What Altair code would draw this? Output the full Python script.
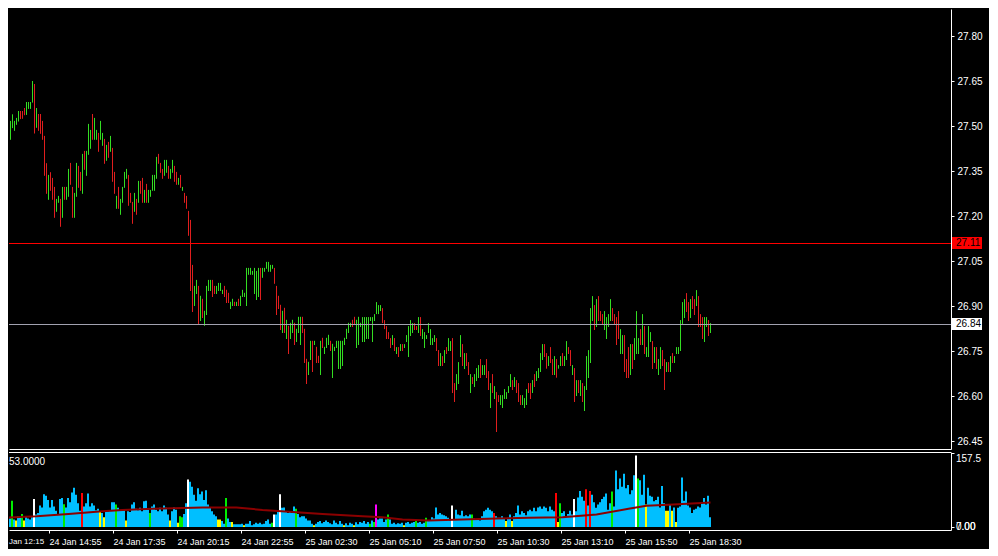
import altair as alt
import pandas as pd

FONT = "Liberation Sans"

# ---------------- price bars (5-minute bars, index 0..354) ----------------
highs = [
    27.539, 27.527, 27.517, 27.487, 27.517, 27.539, 27.517, 27.527, 27.55, 27.55,
    27.55, 27.56, 27.58, 27.58, 27.58, 27.65, 27.64, 27.56, 27.54, 27.54,
    27.517, 27.467, 27.376, 27.337, 27.346, 27.327, 27.297, 27.257, 27.267, 27.257,
    27.297, 27.297, 27.297, 27.357, 27.377, 27.297, 27.277, 27.377, 27.367, 27.347,
    27.407, 27.417, 27.417, 27.507, 27.487, 27.54, 27.527, 27.487, 27.477, 27.517,
    27.477, 27.457, 27.437, 27.447, 27.467, 27.427, 27.347, 27.267, 27.297, 27.257,
    27.297, 27.347, 27.357, 27.337, 27.277, 27.247, 27.277, 27.257, 27.317, 27.317,
    27.327, 27.287, 27.307, 27.287, 27.287, 27.337, 27.337, 27.397, 27.407, 27.377,
    27.357, 27.387, 27.387, 27.367, 27.357, 27.387, 27.367, 27.347, 27.327, 27.337,
    27.297, 27.277, 27.267, 27.217, 27.187, 27.037, 26.967, 26.987, 26.967, 26.934,
    26.924, 26.884, 26.967, 26.987, 26.987, 26.987, 26.967, 26.967, 26.977, 26.977,
    26.954, 26.967, 26.954, 26.944, 26.914, 26.924, 26.914, 26.914, 26.924, 26.934,
    26.954, 26.944, 27.027, 27.027, 27.027, 27.017, 27.027, 27.017, 27.027, 27.027,
    27.027, 27.027, 27.047, 27.047, 27.037, 27.037, 27.027, 26.967, 26.934, 26.904,
    26.884, 26.894, 26.854, 26.834, 26.844, 26.854, 26.844, 26.824, 26.864, 26.864,
    26.864, 26.824, 26.724, 26.714, 26.784, 26.784, 26.784, 26.764, 26.734, 26.784,
    26.794, 26.764, 26.794, 26.804, 26.784, 26.774, 26.764, 26.784, 26.784, 26.784,
    26.784, 26.794, 26.824, 26.844, 26.844, 26.854, 26.864, 26.854, 26.864, 26.844,
    26.863, 26.863, 26.863, 26.863, 26.863, 26.863, 26.873, 26.913, 26.903, 26.903,
    26.893, 26.853, 26.833, 26.813, 26.793, 26.803, 26.793, 26.763, 26.763, 26.773,
    26.773, 26.773, 26.803, 26.833, 26.853, 26.843, 26.843, 26.833, 26.863, 26.863,
    26.823, 26.813, 26.803, 26.843, 26.823, 26.793, 26.803, 26.793, 26.753, 26.743,
    26.733, 26.753, 26.763, 26.793, 26.783, 26.793, 26.643, 26.673, 26.713, 26.803,
    26.773, 26.743, 26.743, 26.713, 26.673, 26.663, 26.673, 26.693, 26.703, 26.723,
    26.703, 26.703, 26.723, 26.683, 26.643, 26.673, 26.633, 26.613, 26.603, 26.603,
    26.603, 26.623, 26.613, 26.633, 26.673, 26.653, 26.663, 26.653, 26.643, 26.603,
    26.603, 26.593, 26.623, 26.643, 26.643, 26.653, 26.673, 26.683, 26.693, 26.743,
    26.773, 26.773, 26.743, 26.733, 26.763, 26.723, 26.733, 26.723, 26.703, 26.733,
    26.743, 26.733, 26.783, 26.763, 26.753, 26.703, 26.693, 26.653, 26.653, 26.653,
    26.643, 26.633, 26.733, 26.753, 26.893, 26.933, 26.903, 26.923, 26.933, 26.883,
    26.873, 26.883, 26.863, 26.873, 26.923, 26.893, 26.873, 26.863, 26.883, 26.823,
    26.803, 26.803, 26.723, 26.763, 26.773, 26.773, 26.793, 26.883, 26.793, 26.823,
    26.873, 26.833, 26.763, 26.833, 26.813, 26.783, 26.763, 26.763, 26.723, 26.763,
    26.753, 26.723, 26.713, 26.713, 26.733, 26.743, 26.733, 26.763, 26.763, 26.853,
    26.913, 26.923, 26.943, 26.913, 26.923, 26.933, 26.923, 26.953, 26.933, 26.873,
    26.863, 26.863, 26.863, 26.853, 26.843,
]
lows = [
    27.464, 27.494, 27.425, 27.434, 27.454, 27.493, 27.484, 27.504, 27.515, 27.523,
    27.524, 27.536, 27.537, 27.557, 27.557, 27.578, 27.475, 27.494, 27.484, 27.474,
    27.454, 27.334, 27.274, 27.254, 27.284, 27.254, 27.194, 27.214, 27.244, 27.164,
    27.194, 27.254, 27.254, 27.264, 27.304, 27.194, 27.194, 27.264, 27.294, 27.284,
    27.274, 27.354, 27.334, 27.404, 27.424, 27.454, 27.454, 27.454, 27.414, 27.454,
    27.434, 27.374, 27.384, 27.394, 27.414, 27.314, 27.274, 27.224, 27.224, 27.204,
    27.244, 27.294, 27.324, 27.234, 27.244, 27.174, 27.214, 27.204, 27.244, 27.274,
    27.244, 27.244, 27.244, 27.244, 27.264, 27.284, 27.284, 27.324, 27.374, 27.344,
    27.324, 27.334, 27.344, 27.324, 27.324, 27.344, 27.314, 27.304, 27.304, 27.294,
    27.284, 27.244, 27.224, 27.134, 26.95, 26.88, 26.90, 26.94, 26.84, 26.85,
    26.86, 26.834, 26.87, 26.95, 26.95, 26.93, 26.94, 26.94, 26.95, 26.95,
    26.94, 26.93, 26.91, 26.91, 26.89, 26.90, 26.90, 26.90, 26.90, 26.90,
    26.93, 26.93, 26.90, 27.004, 27.004, 27.004, 26.94, 26.92, 26.93, 26.92,
    26.994, 27.014, 27.024, 27.014, 27.014, 27.024, 26.974, 26.87, 26.89, 26.82,
    26.81, 26.81, 26.79, 26.74, 26.79, 26.81, 26.77, 26.78, 26.81, 26.77,
    26.81, 26.71, 26.64, 26.67, 26.72, 26.68, 26.77, 26.71, 26.71, 26.67,
    26.76, 26.74, 26.76, 26.77, 26.75, 26.66, 26.75, 26.76, 26.69, 26.69,
    26.70, 26.77, 26.79, 26.81, 26.83, 26.83, 26.84, 26.76, 26.77, 26.83,
    26.78, 26.78, 26.79, 26.79, 26.85, 26.78, 26.85, 26.873, 26.873, 26.883,
    26.843, 26.823, 26.79, 26.79, 26.76, 26.77, 26.75, 26.74, 26.73, 26.75,
    26.75, 26.76, 26.78, 26.73, 26.80, 26.81, 26.82, 26.82, 26.81, 26.80,
    26.79, 26.76, 26.79, 26.81, 26.77, 26.77, 26.78, 26.75, 26.70, 26.70,
    26.70, 26.71, 26.74, 26.75, 26.75, 26.61, 26.58, 26.62, 26.64, 26.73,
    26.70, 26.69, 26.70, 26.67, 26.61, 26.64, 26.63, 26.65, 26.66, 26.66,
    26.67, 26.67, 26.66, 26.62, 26.56, 26.61, 26.59, 26.48, 26.58, 26.57,
    26.56, 26.59, 26.59, 26.61, 26.63, 26.62, 26.63, 26.61, 26.58, 26.57,
    26.57, 26.56, 26.57, 26.61, 26.59, 26.61, 26.63, 26.65, 26.66, 26.68,
    26.72, 26.73, 26.691, 26.70, 26.71, 26.67, 26.67, 26.661, 26.691, 26.70,
    26.70, 26.70, 26.72, 26.74, 26.70, 26.67, 26.58, 26.60, 26.61, 26.60,
    26.58, 26.55, 26.62, 26.66, 26.71, 26.85, 26.82, 26.83, 26.85, 26.85,
    26.84, 26.82, 26.79, 26.83, 26.85, 26.85, 26.84, 26.77, 26.79, 26.74,
    26.74, 26.68, 26.66, 26.66, 26.67, 26.69, 26.72, 26.74, 26.74, 26.77,
    26.77, 26.74, 26.73, 26.73, 26.78, 26.69, 26.71, 26.69, 26.67, 26.69,
    26.70, 26.62, 26.68, 26.68, 26.68, 26.71, 26.71, 26.74, 26.74, 26.75,
    26.84, 26.86, 26.88, 26.85, 26.86, 26.89, 26.87, 26.90, 26.83, 26.83,
    26.79, 26.78, 26.83, 26.80, 26.81,
]
# G = up bar, R = down bar
directions = (
    "GRRGGGGGGR" "RRGGGGRGRR" "RRRGRRRGGR" "GRGGRRGGRR" "GRGGGRGGRG"
    "GRGRGRRGRG" "GGGRRRGRGR" "RGRGGGGGRR" "RGGRGGRRGR"
    "GRRRRRGGRG" "RGGGGRRGGG" "GRRRGGRGRG" "GGGGGGGGGR" "GGGGGGRRRR"
    "GRGRGGRGGG" "RRRGGRGRRG" "RGGGRGGGGG" "GGGGGRRGGG"
    "GGGGGGGGGG" "RRRRRGRGRG" "RGGGGGRRGR" "GGGGGGGRRG" "RGRGGRRGGG"
    "RGRRGRGGGR" "GGRRGRGRRG" "GGGGGRGRRR" "GGGRRGRGGG"
    "GRRGRRGRGG" "RGGRRGRGRG" "RGGGGGRGRR" "RGGGGRRRRG" "GRRRGRGGGR"
    "GRGGGRGRGG" "RRGRGRGGGG" "GGRRGRRGRR" "RGGRG"
)

# ---------------- volumes ----------------
volumes = [
    27, 25, 53, 21, 18, 56, 16, 14, 23, 23,
    28, 14, 23, 18, 16, 21, 60, 27, 30, 46,
    42, 70, 67, 58, 42, 58, 44, 35, 28, 60,
    62, 49, 42, 62, 53, 74, 84, 69, 51, 35,
    73, 44, 51, 72, 44, 51, 46, 36, 39, 34,
    30, 21, 34, 34, 36, 53, 53, 48, 41, 36,
    35, 37, 14, 34, 32, 48, 53, 39, 36, 41,
    34, 55, 56, 37, 30, 44, 48, 37, 34, 41,
    34, 46, 41, 27, 14, 34, 42, 37, 9, 23,
    21, 28, 51, 102, 97, 86, 69, 56, 83, 70,
    76, 58, 79, 48, 41, 34, 27, 23, 16, 16,
    13, 7, 62, 18, 11, 11, 6, 6, 6, 6,
    7, 4, 7, 7, 13, 4, 6, 9, 7, 9,
    6, 7, 13, 16, 7, 9, 27, 27, 35, 70,
    41, 42, 34, 30, 34, 30, 44, 39, 28, 21,
    23, 23, 18, 14, 14, 7, 4, 7, 11, 13,
    8, 11, 14, 11, 8, 6, 14, 9, 6, 13,
    7, 4, 8, 4, 9, 7, 4, 10, 6, 11,
    9, 13, 7, 11, 7, 14, 11, 48, 16, 18,
    18, 11, 16, 27, 16, 7, 9, 6, 8, 7,
    9, 4, 9, 11, 7, 9, 11, 13, 9, 11,
    7, 9, 20, 14, 13, 21, 18, 42, 27, 30,
    27, 25, 23, 20, 14, 46, 16, 37, 27, 25,
    35, 23, 25, 23, 27, 27, 18, 16, 16, 14,
    23, 34, 37, 41, 37, 34, 30, 23, 20, 20,
    23, 18, 13, 20, 27, 13, 23, 30, 46, 27,
    34, 30, 25, 34, 37, 34, 41, 34, 42, 44,
    39, 44, 41, 34, 44, 37, 34, 73, 11, 51,
    30, 34, 23, 28, 35, 27, 60, 34, 63, 77,
    65, 56, 81, 46, 77, 69, 53, 41, 48, 53,
    60, 65, 72, 37, 51, 76, 44, 121, 81, 104,
    86, 114, 83, 90, 70, 79, 111, 153, 104, 100,
    69, 112, 48, 84, 67, 65, 55, 58, 65, 42,
    88, 51, 35, 35, 48, 35, 42, 11, 41, 44,
    106, 56, 76, 46, 42, 30, 37, 39, 44, 42,
    51, 62, 48, 67, 21,
]
# b=normal, y=low, g=churn, r=climax up, w=climax down, m=climax churn
volume_classes = (
    "bbwbbgbybb" "gybbbbwbbb" "bbbbbbbbbb" "bgbbbbbbbb" "rbbbbbbbby"
    "bybbbbbgbb" "bbybbbbbbb" "bbbbgbbbbb" "bbbbybbbyg" "gbbwbbbbbb"
    "bbbbbbbbyy" "bbgbbybbbb" "bybbbbbbbb" "bbbbbgwbbw" "bbbbbbbgbb"
    "bbbbbbybbb" "bbbbbbbbbb" "bybbbbybbb" "bbbbgbgmbb" "bbbgbbbbbb"
    "bybbbbbgbb" "bbgbbbbbbb" "bbbbbwbbbb" "bbbbbgbbbb" "bbbbbbrbbb"
    "bbybbybbbb" "bbbbbbbbbb" "bbbbbbbryg" "bbbbbbwbbb" "bbrbrbbbbb"
    "bbbbbgbbbb" "bbbbbbbwgb" "bbybbbbbbb" "bbyybybybb" "bbbbbbbbbb"
    "bbbbb"
)
# volume moving average (read at a few bars)
ma_bars = [0, 17, 33, 50, 60, 75, 90, 100, 117, 130, 147, 160, 180, 190, 200,
           213, 230, 247, 263, 280, 297, 313, 322, 333, 347, 354]
ma_values = [19.6, 23, 28, 33.6, 36.4, 39, 40.6, 42, 42, 36.4, 31.5, 28, 23, 21, 16,
             14, 16, 18, 19.6, 21, 26.6, 39, 45.5, 47.6, 51, 52.5]

# ---------------- axes / labels ----------------
time_tick_bars = [23, 55, 87, 119, 151, 183, 215, 247, 279, 311, 343]
time_tick_labels = ["24 Jan 14:55", "24 Jan 17:35", "24 Jan 20:15",
                    "24 Jan 22:55", "25 Jan 02:30", "25 Jan 05:10", "25 Jan 07:50",
                    "25 Jan 10:30", "25 Jan 13:10", "25 Jan 15:50", "25 Jan 18:30"]
first_label = "Jan 12:15"          # partly scrolled-off first label
price_ticks = [26.45, 26.60, 26.75, 26.90, 27.05, 27.20, 27.35, 27.50, 27.65, 27.80]
stop_level = 27.11
last_price = 26.84
vol_axis_top = 157.5
vol_top_text = "53.0000"
vol_bottom_texts = ["0.00", "7.00"]

assert len(highs) == len(lows) == len(directions) == len(volumes) == len(volume_classes)

# ---------------- layout ----------------
W = 942
H1 = 440
H2 = 78
X_LO = 3.25
X_HI = X_LO + W / 2.0          # 2 px per bar
P_HI = 27.89
P_LO = P_HI - H1 / 300.0       # 300 px per 1.00
V_LO, V_HI = -6.4, 160.7

UP, DN = "#33dd22", "#e01e1e"
WHITE = "#ffffff"

n = len(highs)
bars_df = pd.DataFrame({"k": list(range(n)), "high": highs, "low": lows,
                        "dir": list(directions)})
vol_df = pd.DataFrame({"k": list(range(n)), "vol": volumes, "cls": list(volume_classes)})
ma_df = pd.DataFrame({"k": ma_bars, "v": ma_values})
tick_df = pd.DataFrame({"k": time_tick_bars, "label": time_tick_labels})

xscale = alt.Scale(domain=[X_LO, X_HI], nice=False, zero=False)
yscale = alt.Scale(domain=[P_LO, P_HI], nice=False, zero=False)
vscale = alt.Scale(domain=[V_LO, V_HI], nice=False, zero=False)

xax_main = alt.Axis(labels=False, ticks=False, grid=False, domainColor=WHITE,
                    domainWidth=1, title=None)
yax_main = alt.Axis(orient="right", values=price_ticks, format=".2f", grid=False,
                    tickSize=3, tickColor=WHITE, domainColor=WHITE, labelColor=WHITE,
                    labelFont=FONT, labelFontSize=10, labelPadding=3, title=None)

price_bars = alt.Chart(bars_df).mark_rule(strokeWidth=1, clip=True).encode(
    x=alt.X("k:Q", scale=xscale, axis=xax_main),
    y=alt.Y("low:Q", scale=yscale, axis=yax_main),
    y2="high:Q",
    color=alt.Color("dir:N", scale=alt.Scale(domain=["G", "R"], range=[UP, DN]), legend=None),
)

stop_df = pd.DataFrame({"price": [stop_level]})
last_df = pd.DataFrame({"price": [last_price]})

stop_line = alt.Chart(stop_df).mark_rule(color="#ff0000", strokeWidth=1, yOffset=0.5).encode(
    y=alt.Y("price:Q", scale=yscale, axis=yax_main))
last_line = alt.Chart(last_df).mark_rule(color="#a2a2b0", strokeWidth=1, yOffset=0.5).encode(
    y=alt.Y("price:Q", scale=yscale, axis=yax_main))

stop_box = alt.Chart(stop_df).mark_rule(color="#ff0000", strokeWidth=12, strokeCap="butt").encode(
    y=alt.Y("price:Q", scale=yscale, axis=yax_main), x=alt.value(W + 1), x2=alt.value(W + 31))
last_box = alt.Chart(last_df).mark_rule(color=WHITE, strokeWidth=12, strokeCap="butt").encode(
    y=alt.Y("price:Q", scale=yscale, axis=yax_main), x=alt.value(W + 1), x2=alt.value(W + 31))
stop_txt = alt.Chart(stop_df).mark_text(align="left", baseline="middle", color="#000000",
                                        font=FONT, fontSize=10).encode(
    y=alt.Y("price:Q", scale=yscale, axis=yax_main), x=alt.value(W + 5),
    text=alt.Text("price:Q", format=".2f"))
last_txt = alt.Chart(last_df).mark_text(align="left", baseline="middle", color="#000000",
                                        font=FONT, fontSize=10).encode(
    y=alt.Y("price:Q", scale=yscale, axis=yax_main), x=alt.value(W + 5),
    text=alt.Text("price:Q", format=".2f"))

main = alt.layer(price_bars, stop_line, last_line, stop_box, last_box, stop_txt, last_txt
                 ).properties(width=W, height=H1)

# ---------------- volume panel ----------------
xax_vol = alt.Axis(values=time_tick_bars, labels=False, grid=False, tickSize=3, tickColor=WHITE,
                   domainColor=WHITE, title=None)
yax_vol = alt.Axis(orient="right", values=[0, vol_axis_top], labels=False, grid=False,
                   tickSize=3, tickColor=WHITE, domainColor=WHITE, title=None)

vol_bars = alt.Chart(vol_df).transform_calculate(
    x0="datum.k - 0.75", x1="datum.k + 0.25", base="0"
).mark_bar(clip=True).encode(
    x=alt.X("x0:Q", scale=xscale, axis=xax_vol),
    x2="x1:Q",
    y=alt.Y("vol:Q", scale=vscale, axis=yax_vol),
    y2="base:Q",
    color=alt.Color("cls:N", scale=alt.Scale(
        domain=["b", "y", "g", "r", "w", "m"],
        range=["#00bfff", "#ffff00", "#00ee00", "#ff0000", "#ffffff", "#ff00ff"]), legend=None),
)
ma_line = alt.Chart(ma_df).mark_line(color="#8b0000", strokeWidth=2, clip=True).encode(
    x=alt.X("k:Q", scale=xscale, axis=xax_vol),
    y=alt.Y("v:Q", scale=vscale, axis=yax_vol),
)
dummy = pd.DataFrame({"a": [0]})
top_border = alt.Chart(dummy).mark_rule(color=WHITE, strokeWidth=1).encode(
    y=alt.value(0.5), x=alt.value(0), x2=alt.value(W))
vol_title = alt.Chart(pd.DataFrame({"t": [vol_top_text]})).mark_text(
    align="left", baseline="middle", color=WHITE, font=FONT, fontSize=10).encode(
    x=alt.value(0), y=alt.value(10), text="t:N")
vol_top_lbl = alt.Chart(pd.DataFrame({"v": [vol_axis_top]})).mark_text(
    align="left", baseline="top", color=WHITE, font=FONT, fontSize=10, dy=1).encode(
    x=alt.value(W + 5), y=alt.Y("v:Q", scale=vscale, axis=yax_vol),
    text=alt.Text("v:Q", format=".1f"))
vol_bot_lbl = alt.Chart(pd.DataFrame({"v": [0, 0], "t": vol_bottom_texts})).mark_text(
    align="left", baseline="middle", color=WHITE, font=FONT, fontSize=10).encode(
    x=alt.value(W + 5), y=alt.Y("v:Q", scale=vscale, axis=yax_vol), text="t:N")

vol = alt.layer(vol_bars, ma_line, top_border, vol_title, vol_top_lbl, vol_bot_lbl
                ).properties(width=W, height=H2)

# ---------------- time labels strip ----------------
time_lbls = alt.Chart(tick_df).mark_text(
    align="left", baseline="middle", color=WHITE, font=FONT, fontSize=9, dx=1
).encode(
    x=alt.X("k:Q", scale=xscale, axis=None),
    y=alt.value(6),
    text="label:N",
)
first_lbl = alt.Chart(pd.DataFrame({"t": [first_label]})).mark_text(
    align="left", baseline="middle", color=WHITE, font=FONT, fontSize=8
).encode(x=alt.value(0), y=alt.value(6), text="t:N")
labels_strip = alt.layer(time_lbls, first_lbl).properties(width=W, height=12)

chart = alt.vconcat(main, vol, labels_strip, spacing=1).resolve_scale(
    color="independent"
).properties(
    background="#000000", padding=0
).configure(font=FONT).configure_view(stroke="transparent")

chart.save("out.html", embed_options={"renderer": "svg", "actions": False})
